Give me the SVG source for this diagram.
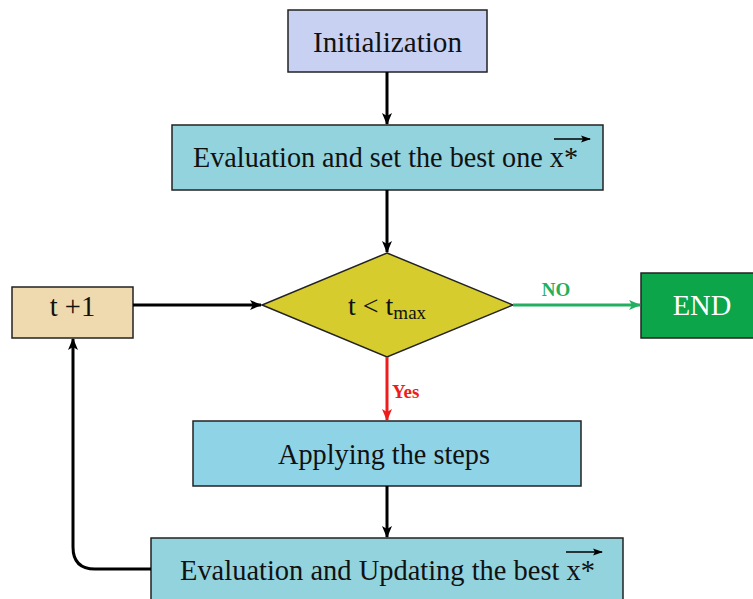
<svg xmlns="http://www.w3.org/2000/svg" width="753" height="599" viewBox="0 0 753 599">
<defs>
<marker id="ab" markerWidth="12" markerHeight="10" refX="11" refY="5" orient="auto" markerUnits="userSpaceOnUse"><path d="M0,0 L12,5 L0,10 L3,5 z" fill="#000"/></marker>
<marker id="ag" markerWidth="12" markerHeight="10" refX="11" refY="5" orient="auto" markerUnits="userSpaceOnUse"><path d="M0,0 L12,5 L0,10 L3,5 z" fill="#22b060"/></marker>
<marker id="ar" markerWidth="12" markerHeight="10" refX="11" refY="5" orient="auto" markerUnits="userSpaceOnUse"><path d="M0,0 L12,5 L0,10 L3,5 z" fill="#ee1c1c"/></marker>
<marker id="ax" markerWidth="10" markerHeight="8" refX="9" refY="4" orient="auto" markerUnits="userSpaceOnUse"><path d="M0,0.5 L10,4 L0,7.5 L2,4 z" fill="#000"/></marker>
</defs>
<style>
text{font-family:"Liberation Serif","Times New Roman",serif;fill:#111;}
.box{stroke:#222;stroke-width:1.5;}
.lbl{font-size:28.5px;}
.mid{text-anchor:middle;}
.c{fill:none;stroke:#000;stroke-width:3;}
.tag{font-size:19px;font-weight:bold;}
</style>
<rect width="753" height="599" fill="#fff"/>
<g id="init">
<rect class="box" x="288" y="10" width="199" height="62" fill="#c9d1f2"/>
<text class="lbl" x="313" y="52" textLength="149" lengthAdjust="spacingAndGlyphs">Initialization</text>
</g>
<g id="eval">
<rect class="box" x="172" y="125" width="431" height="65" fill="#92d3de"/>
<text class="lbl" x="193" y="167" textLength="385" lengthAdjust="spacingAndGlyphs">Evaluation and set the best one x*</text>
<line x1="554" y1="139" x2="590" y2="139" stroke="#000" stroke-width="1.5" marker-end="url(#ax)"/>
</g>
<g id="cond">
<polygon class="box" points="387,253 513,305 387,357 262,305" fill="#d6cc2e"/>
<text x="348" y="315" font-size="28px">t &lt; t<tspan font-size="19px" dy="4">max</tspan></text>
</g>
<g id="inc">
<rect class="box" x="12" y="287" width="121" height="51" fill="#efd9ae"/>
<text class="lbl mid" x="72.5" y="316">t +1</text>
</g>
<g id="end">
<rect class="box" x="641" y="273" width="113" height="65" fill="#0da54a"/>
<text class="lbl mid" x="702" y="315" style="fill:#fff">END</text>
</g>
<g id="apply">
<rect class="box" x="193" y="421" width="388" height="65" fill="#8fd4e6"/>
<text class="lbl" x="278" y="464" textLength="212" lengthAdjust="spacingAndGlyphs">Applying the steps</text>
</g>
<g id="update">
<rect class="box" x="151" y="538" width="472" height="70" fill="#92d3de"/>
<text class="lbl" x="180" y="580" textLength="415" lengthAdjust="spacingAndGlyphs">Evaluation and Updating the best x*</text>
<line x1="566" y1="552" x2="602" y2="552" stroke="#000" stroke-width="1.5" marker-end="url(#ax)"/>
</g>
<g id="connectors">
<line class="c" x1="387" y1="72" x2="387" y2="124" marker-end="url(#ab)"/>
<line class="c" x1="387" y1="190" x2="387" y2="252" marker-end="url(#ab)"/>
<line class="c" x1="133" y1="305" x2="261" y2="305" marker-end="url(#ab)"/>
<line x1="513" y1="305" x2="640" y2="305" stroke="#22b060" stroke-width="3" marker-end="url(#ag)"/>
<text class="tag" x="556" y="296" text-anchor="middle" style="fill:#22b060">NO</text>
<line x1="387" y1="357" x2="387" y2="420" stroke="#ee1c1c" stroke-width="3" marker-end="url(#ar)"/>
<text class="tag" x="392" y="398" style="fill:#ee1c1c">Yes</text>
<line class="c" x1="387" y1="486" x2="387" y2="537" marker-end="url(#ab)"/>
<path class="c" d="M151,569 L95,569 Q73,569 73,547 L73,339" marker-end="url(#ab)"/>
</g>
</svg>
